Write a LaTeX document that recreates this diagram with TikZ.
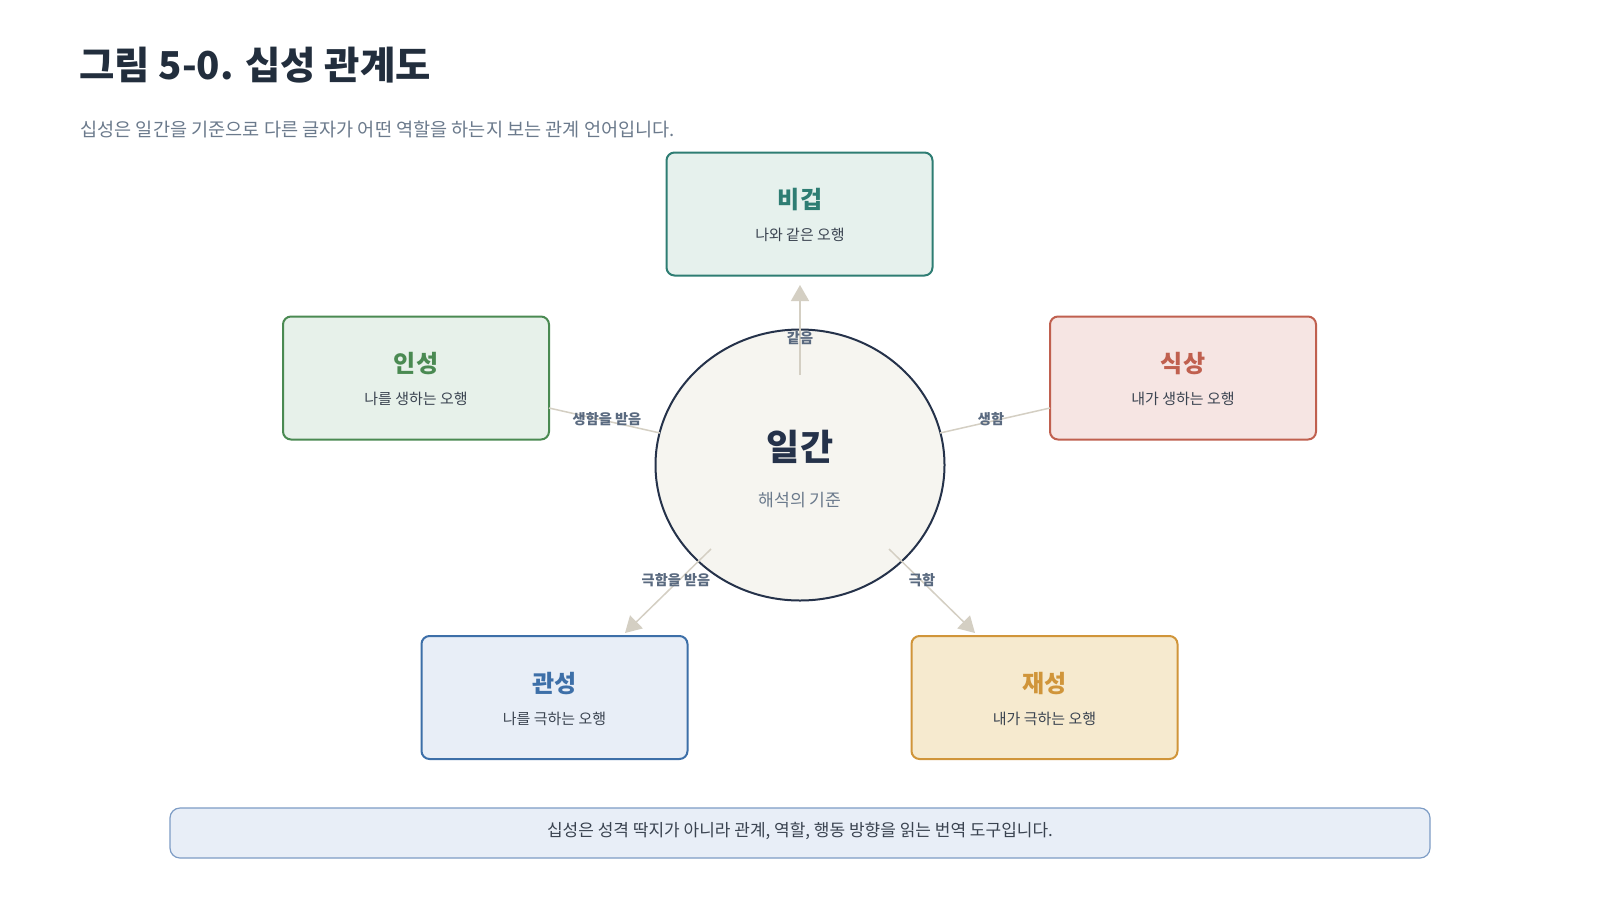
\documentclass[tikz,border=0pt]{standalone}
\usepackage{fontspec}
\newfontfamily\kr{Noto Sans CJK KR}
\usetikzlibrary{arrows.meta,shapes.geometric}
\definecolor{titlec}{HTML}{222E3D}
\definecolor{subc}{HTML}{6B7A8C}
\definecolor{bodyc}{HTML}{3A4350}
\definecolor{edgec}{HTML}{D4CFC3}
\definecolor{lblc}{HTML}{5A6A80}
\definecolor{tealc}{HTML}{2E7D73}\definecolor{tealf}{HTML}{E6F1ED}
\definecolor{greenc}{HTML}{4A8A52}\definecolor{greenf}{HTML}{E7F1EA}
\definecolor{redc}{HTML}{C0604F}\definecolor{redf}{HTML}{F6E5E3}
\definecolor{bluec}{HTML}{3D6FA8}\definecolor{bluef}{HTML}{E8EEF7}
\definecolor{goldc}{HTML}{D0953A}\definecolor{goldf}{HTML}{F6EACF}
\definecolor{circf}{HTML}{F6F5F0}\definecolor{circd}{HTML}{25324A}
\definecolor{bannerd}{HTML}{7D9CC5}
\begin{document}
\begin{tikzpicture}[x=0.5pt,y=-0.5pt,
  card/.style={rectangle,rounded corners=4pt,line width=1pt,minimum width=133pt,minimum height=61.5pt,inner sep=0pt},
  cardtitle/.style={font=\kr\bfseries\fontsize{12}{14}\selectfont},
  cardsub/.style={font=\kr\fontsize{7.5}{9}\selectfont,text=bodyc},
  edge/.style={draw=edgec,line width=0.75pt},
  arr/.style={edge,-{Triangle[width=9pt,length=8pt]}},
  elabel/.style={font=\kr\bfseries\fontsize{7.1}{8}\selectfont,text=lblc,inner sep=0pt}]
\useasboundingbox[fill=white] (0,0) rectangle (1600,900);
\node[anchor=west,inner sep=0pt,text=titlec,font=\kr\bfseries\fontsize{19.2}{21}\selectfont] (title) at (79,65) {그림 5-0. 십성 관계도};
\node[anchor=west,inner sep=0pt,text=subc,font=\kr\fontsize{9.3}{11}\selectfont] (subtitle) at (80,129) {십성은 일간을 기준으로 다른 글자가 어떤 역할을 하는지 보는 관계 언어입니다.};
% center
\node[ellipse,draw=circd,fill=circf,line width=1pt,minimum width=144.5pt,minimum height=135.5pt,inner sep=0pt] (ilgan) at (800,465) {};
\node[text=circd,font=\kr\bfseries\fontsize{18}{20}\selectfont,inner sep=0pt] (ilganT) at (800,447) {일간};
\node[text=subc,font=\kr\fontsize{8.6}{10}\selectfont,inner sep=0pt] (ilganS) at (800,500) {해석의 기준};
% cards
\node[card,draw=tealc,fill=tealf] (bigeop) at (799.5,214) {};
\node[cardtitle,text=tealc] (bigeopT) at (800,200) {비겁};
\node[cardsub] (bigeopS) at (800,235) {나와 같은 오행};
\node[card,draw=greenc,fill=greenf] (inseong) at (416,378) {};
\node[cardtitle,text=greenc] (inseongT) at (416,364) {인성};
\node[cardsub] (inseongS) at (416,399) {나를 생하는 오행};
\node[card,draw=redc,fill=redf] (siksang) at (1183,378) {};
\node[cardtitle,text=redc] (siksangT) at (1183,364) {식상};
\node[cardsub] (siksangS) at (1183,399) {내가 생하는 오행};
\node[card,draw=bluec,fill=bluef] (gwanseong) at (554.5,697.5) {};
\node[cardtitle,text=bluec] (gwanseongT) at (554.5,684) {관성};
\node[cardsub] (gwanseongS) at (554.5,719) {나를 극하는 오행};
\node[card,draw=goldc,fill=goldf] (jaeseong) at (1044.5,697.5) {};
\node[cardtitle,text=goldc] (jaeseongT) at (1044.5,684) {재성};
\node[cardsub] (jaeseongS) at (1044.5,719) {내가 극하는 오행};
% connector points
\coordinate (cTop) at (800,375);
\coordinate (tTop) at (800,285);
\coordinate (cBL) at (711,549);
\coordinate (tBL) at (625,633);
\coordinate (cBR) at (889,549);
\coordinate (tBR) at (975,633);
\coordinate (inE) at (549,408);
\coordinate (ciL) at (660,433);
\coordinate (siW) at (1050,408);
\coordinate (ciR) at (940,433);
\draw[arr] (cTop) -- (tTop);
\draw[arr] (cBL) -- (tBL);
\draw[arr] (cBR) -- (tBR);
\draw[edge] (inE) -- (ciL);
\draw[edge] (ciR) -- (siW);
\node[elabel] (l1) at (800,338) {같음};
\node[elabel] (l2) at (607,419) {생함을 받음};
\node[elabel] (l3) at (991,419) {생함};
\node[elabel] (l4) at (676,580) {극함을 받음};
\node[elabel] (l5) at (922,580) {극함};
% banner
\node[rectangle,rounded corners=5pt,draw=bannerd,fill=bluef,line width=0.6pt,minimum width=630pt,minimum height=25pt,inner sep=0pt] (banner) at (800,833) {};
\node[text=bodyc,font=\kr\fontsize{8.5}{10}\selectfont,inner sep=0pt] (bannerT) at (800,831) {십성은 성격 딱지가 아니라 관계, 역할, 행동 방향을 읽는 번역 도구입니다.};
\end{tikzpicture}
\end{document}
